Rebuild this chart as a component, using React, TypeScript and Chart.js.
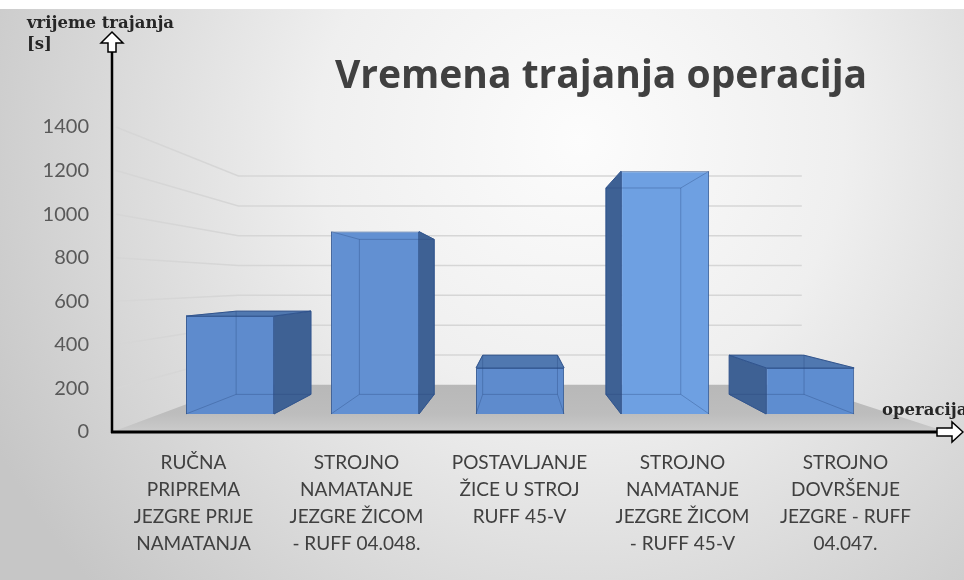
import React, { useEffect, useRef } from "react";
import { Chart, registerables } from "chart.js";

Chart.register(...registerables);

// ---------- data ----------
const categories: string[][] = [
  ["RUČNA", "PRIPREMA", "JEZGRE PRIJE", "NAMATANJA"],
  ["STROJNO", "NAMATANJE", "JEZGRE ŽICOM", "- RUFF 04.048."],
  ["POSTAVLJANJE", "ŽICE U STROJ", "RUFF 45-V"],
  ["STROJNO", "NAMATANJE", "JEZGRE ŽICOM", "- RUFF 45-V"],
  ["STROJNO", "DOVRŠENJE", "JEZGRE - RUFF", "04.047."],
];
const durations: number[] = [510, 950, 240, 1265, 240];
const yTickMin = 0;
const yTickMax = 1400;
const yTickStep = 200;
const chartTitle = "Vremena trajanja operacija";
const yAxisTitleLines = ["vrijeme trajanja", "[s]"];
const xAxisTitle = "operacija";

// ---------- look ----------
const FONT = "Lato, 'Open Sans', sans-serif";
const TITLE_FONT = "'Open Sans', Lato, sans-serif";
const SERIF = "'DejaVu Serif', 'Liberation Serif', serif";
const frontColors = [
  "rgb(94,139,205)",
  "rgb(98,144,210)",
  "rgb(94,139,205)",
  "rgb(110,160,226)",
  "rgb(94,141,208)",
];
const sideColor = "rgb(62,97,148)";
const topColor = "rgb(80,120,176)";
const edgeColor = "rgb(55,92,150)";
const geometry = {
  eyeLevelValue: 680,
  barDepth: 0.85,
  wallDepth: 0.777,
  barAxisMin: -94,
  barAxisMax: 1495,
  barAxisFrom: -0.814,
  barAxisTo: 4.806,
};

const scenePlugin = {
  id: "scene3d",
  beforeDraw(chart: any) {
    const { ctx, width, height } = chart;
    ctx.save();
    const g = ctx.createRadialGradient(580, 140, 0, 580, 140, 660);
    g.addColorStop(0, "#fcfcfc");
    g.addColorStop(0.4, "#efefef");
    g.addColorStop(1, "#c6c6c6");
    ctx.fillStyle = g;
    ctx.fillRect(0, 0, width, height);
    ctx.fillStyle = "#ffffff";
    ctx.fillRect(0, 0, width, 9);
    ctx.restore();
  },
  beforeDatasetsDraw(chart: any) {
    const { ctx, chartArea, scales } = chart;
    const { xb, yb, y } = scales;
    const n = durations.length;
    const vx = xb.getPixelForValue((n - 1) / 2);
    const vy = yb.getPixelForValue(geometry.eyeLevelValue);
    const proj = (px: number, py: number, k: number) => ({ x: vx + k * (px - vx), y: vy + k * (py - vy) });
    const wl = xb.getPixelForValue(-0.5);
    const wr = xb.getPixelForValue(n - 0.5);
    const base = yb.getPixelForValue(0);
    const front0 = y.getPixelForValue(0);
    const kW = geometry.wallDepth;

    ctx.save();
    // floor
    const bl = proj(wl, base, kW);
    const br = proj(wr, base, kW);
    const fg = ctx.createLinearGradient(0, bl.y, 0, front0);
    fg.addColorStop(0, "#b8b8b8");
    fg.addColorStop(0.62, "#bdbdbd");
    fg.addColorStop(1, "#cbcbcb");
    ctx.fillStyle = fg;
    ctx.beginPath();
    ctx.moveTo(bl.x, bl.y);
    ctx.lineTo(br.x, br.y);
    ctx.lineTo(chartArea.right + 20, front0);
    ctx.lineTo(chartArea.left, front0);
    ctx.closePath();
    ctx.fill();

    // gridlines: left wall + back wall
    ctx.strokeStyle = "#d6d6d6";
    ctx.lineWidth = 1.5;
    for (let v = yTickMin + yTickStep; v <= yTickMax; v += yTickStep) {
      const a = proj(wl, yb.getPixelForValue(v), kW);
      const b = proj(wr, yb.getPixelForValue(v), kW);
      ctx.beginPath();
      ctx.moveTo(chartArea.left + 4, y.getPixelForValue(v));
      ctx.lineTo(a.x, a.y);
      ctx.lineTo(b.x, b.y);
      ctx.stroke();
    }

    // bar side and top faces
    const meta = chart.getDatasetMeta(0);
    const kB = geometry.barDepth;
    meta.data.forEach((el: any) => {
      const p = el.getProps(["x", "y", "base", "width"], true);
      const L = p.x - p.width / 2;
      const R = p.x + p.width / 2;
      const T = p.y;
      const B = p.base;
      if (p.x < vx - 10) {
        const t = proj(R, T, kB), b = proj(R, B, kB);
        ctx.fillStyle = sideColor;
        ctx.beginPath();
        ctx.moveTo(R, T); ctx.lineTo(t.x, t.y); ctx.lineTo(b.x, b.y); ctx.lineTo(R, B);
        ctx.closePath(); ctx.fill();
        ctx.strokeStyle = edgeColor; ctx.lineWidth = 1; ctx.stroke();
      } else if (p.x > vx + 10) {
        const t = proj(L, T, kB), b = proj(L, B, kB);
        ctx.fillStyle = sideColor;
        ctx.beginPath();
        ctx.moveTo(L, T); ctx.lineTo(t.x, t.y); ctx.lineTo(b.x, b.y); ctx.lineTo(L, B);
        ctx.closePath(); ctx.fill();
        ctx.strokeStyle = edgeColor; ctx.lineWidth = 1; ctx.stroke();
      }
      if (T > vy) {
        const tl = proj(L, T, kB), tr = proj(R, T, kB);
        ctx.fillStyle = topColor;
        ctx.beginPath();
        ctx.moveTo(L, T); ctx.lineTo(tl.x, tl.y); ctx.lineTo(tr.x, tr.y); ctx.lineTo(R, T);
        ctx.closePath(); ctx.fill();
        ctx.strokeStyle = edgeColor; ctx.lineWidth = 1; ctx.stroke();
      }
    });
    ctx.restore();
  },
  afterDatasetsDraw(chart: any) {
    const { ctx, scales } = chart;
    const { xb, yb } = scales;
    const n = durations.length;
    const vx = xb.getPixelForValue((n - 1) / 2);
    const vy = yb.getPixelForValue(geometry.eyeLevelValue);
    const kB = geometry.barDepth;
    const proj = (px: number, py: number) => ({ x: vx + kB * (px - vx), y: vy + kB * (py - vy) });
    const meta = chart.getDatasetMeta(0);
    ctx.save();
    ctx.strokeStyle = "rgba(40,72,125,0.35)";
    ctx.lineWidth = 1;
    meta.data.forEach((el: any) => {
      const p = el.getProps(["x", "y", "base", "width"], true);
      const L = p.x - p.width / 2, R = p.x + p.width / 2, T = p.y, B = p.base;
      const a = proj(L, T), b = proj(R, T), c = proj(R, B), d = proj(L, B);
      ctx.beginPath();
      ctx.moveTo(a.x, a.y); ctx.lineTo(b.x, b.y); ctx.lineTo(c.x, c.y); ctx.lineTo(d.x, d.y); ctx.closePath();
      ctx.moveTo(L, T); ctx.lineTo(a.x, a.y);
      ctx.moveTo(R, T); ctx.lineTo(b.x, b.y);
      ctx.moveTo(R, B); ctx.lineTo(c.x, c.y);
      ctx.moveTo(L, B); ctx.lineTo(d.x, d.y);
      ctx.stroke();
    });
    ctx.restore();
  },
  afterDraw(chart: any) {
    const { ctx, chartArea, scales } = chart;
    const { y } = scales;
    const ax = chartArea.left;
    const ay = y.getPixelForValue(0);
    const top = y.getPixelForValue(yTickMax);
    ctx.save();
    // axes
    ctx.strokeStyle = "#000";
    ctx.lineWidth = 2.5;
    ctx.beginPath();
    ctx.moveTo(ax, ay + 1);
    ctx.lineTo(ax, top - 75);
    ctx.stroke();
    ctx.lineWidth = 3;
    ctx.beginPath();
    ctx.moveTo(ax - 1, ay);
    ctx.lineTo(chartArea.right + 10, ay);
    ctx.stroke();

    // hollow arrows
    ctx.fillStyle = "#fff";
    ctx.lineWidth = 1.5;
    const upTip = top - 95;
    ctx.beginPath();
    ctx.moveTo(ax, upTip);
    ctx.lineTo(ax + 11, upTip + 11);
    ctx.lineTo(ax + 4, upTip + 11);
    ctx.lineTo(ax + 4, upTip + 20);
    ctx.lineTo(ax - 4, upTip + 20);
    ctx.lineTo(ax - 4, upTip + 11);
    ctx.lineTo(ax - 11, upTip + 11);
    ctx.closePath();
    ctx.fill();
    ctx.stroke();

    const rx = chartArea.right + 10;
    ctx.beginPath();
    ctx.moveTo(rx, ay - 4);
    ctx.lineTo(rx + 15, ay - 4);
    ctx.lineTo(rx + 15, ay - 10);
    ctx.lineTo(rx + 26, ay);
    ctx.lineTo(rx + 15, ay + 10);
    ctx.lineTo(rx + 15, ay + 4);
    ctx.lineTo(rx, ay + 4);
    ctx.closePath();
    ctx.fill();
    ctx.stroke();

    // texts
    ctx.fillStyle = "#404040";
    ctx.font = `bold 39px ${TITLE_FONT}`;
    ctx.textAlign = "center";
    ctx.textBaseline = "middle";
    ctx.fillText(chartTitle, chartArea.left + chartArea.width * 0.6, top - 50);

    ctx.fillStyle = "#262626";
    ctx.font = `bold 16.5px ${SERIF}`;
    ctx.textAlign = "left";
    ctx.fillText(yAxisTitleLines[0], 27, top - 103);
    ctx.fillText(yAxisTitleLines[1], 27, top - 82);
    ctx.fillText(xAxisTitle, chartArea.right - 45, ay - 21);
    ctx.restore();
  },
};

export default function App() {
  const ref = useRef<HTMLCanvasElement | null>(null);
  useEffect(() => {
    if (!ref.current) return;
    const chart = new Chart(ref.current, {
      type: "bar",
      data: {
        labels: categories,
        datasets: [
          {
            data: durations.map((v, i) => ({ x: i, y: v })) as any,
            xAxisID: "xb",
            yAxisID: "yb",
            backgroundColor: frontColors,
            borderColor: edgeColor,
            borderWidth: 1,
            barPercentage: 0.607,
            categoryPercentage: 1,
          },
        ],
      },
      options: {
        animation: false,
        responsive: true,
        maintainAspectRatio: false,
        events: [],
        layout: { padding: { top: 127, right: 37, left: 0, bottom: 0 } },
        plugins: { legend: { display: false }, tooltip: { enabled: false }, title: { display: false } },
        scales: {
          x: {
            type: "category",
            position: "bottom",
            grid: { display: false, drawTicks: false },
            border: { display: false },
            ticks: {
              autoSkip: false,
              maxRotation: 0,
              minRotation: 0,
              padding: 17,
              color: "#404040",
              font: { family: FONT, size: 19, lineHeight: 1.42 },
            },
            afterFit: (s: any) => { s.height = 148; },
          },
          xb: {
            type: "linear",
            axis: "x",
            position: "bottom",
            display: false,
            offset: false,
            bounds: "data",
            grid: { offset: false },
            min: geometry.barAxisFrom,
            max: geometry.barAxisTo,
            afterBuildTicks: (s: any) => { s.ticks = durations.map((_, i) => ({ value: i })); },
          },
          y: {
            type: "linear",
            position: "left",
            min: yTickMin,
            max: yTickMax,
            grid: { display: false, drawTicks: false },
            border: { display: false },
            ticks: {
              stepSize: yTickStep,
              padding: 23,
              color: "#595959",
              font: { family: FONT, size: 20 },
              callback: (v: any) => String(v),
            },
            afterFit: (s: any) => { s.width = 112; },
          },
          yb: {
            type: "linear",
            axis: "y",
            position: "left",
            display: false,
            min: geometry.barAxisMin,
            max: geometry.barAxisMax,
          },
        },
      } as any,
      plugins: [scenePlugin],
    });
    return () => chart.destroy();
  }, []);
  return (
    <div style={{ position: "absolute", left: 0, top: 0, width: 964, height: 580 }}>
      <canvas ref={ref} />
    </div>
  );
}
